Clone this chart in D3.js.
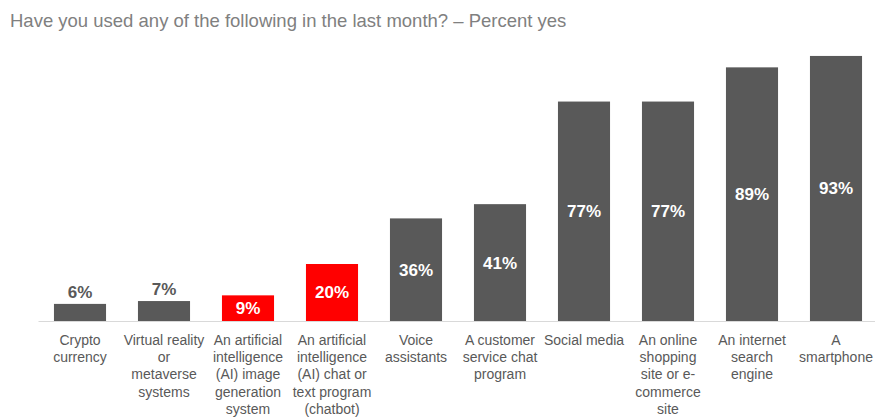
<!DOCTYPE html>
<html>
<head>
<meta charset="utf-8">
<script src="https://cdn.jsdelivr.net/npm/d3@7"></script>
<style>
  body { margin: 0; background: #fff; }
  svg text { font-family: "Liberation Sans", Arial, Helvetica, sans-serif; }
</style>
</head>
<body>
<div id="chart"></div>
<script>
// Chart data
var title = "Have you used any of the following in the last month? \u2013 Percent yes";
var categories = [
	"Crypto\ncurrency",
	"Virtual reality\nor\nmetaverse\nsystems",
	"An artificial\nintelligence\n(AI) image\ngeneration\nsystem",
	"An artificial\nintelligence\n(AI) chat or\ntext program\n(chatbot)",
	"Voice\nassistants",
	"A customer\nservice chat\nprogram",
	"Social media",
	"An online\nshopping\nsite or e-\ncommerce\nsite",
	"An internet\nsearch\nengine",
	"A\nsmartphone"
];
var values = [6, 7, 9, 20, 36, 41, 77, 77, 89, 93];
var highlighted = [categories[2], categories[3]];

var width = 875, height = 417;
var baseline = 321;

var svg = d3.select("#chart")
	.append("svg")
	.attr("width", width)
	.attr("height", height);

// Title
svg.append("text")
	.attr("x", 10)
	.attr("y", 27)
	.attr("fill", "#808080")
	.style("font-size", "18.5px")
	.text(title);

// Scales
var x = d3.scaleBand()
	.domain(categories)
	.range([38, 878])
	.paddingInner(0.38)
	.paddingOuter(0.19);

var y = d3.scaleLinear()
	.domain([0, 100])
	.range([baseline, 36]);

var data = categories.map(function(c, i) { return { cat: c, value: values[i] }; });

// Bars
svg.append("g")
	.selectAll("rect")
	.data(data)
	.enter().append("rect")
	.attr("x", function(d) { return x(d.cat); })
	.attr("y", function(d) { return y(d.value); })
	.attr("width", x.bandwidth())
	.attr("height", function(d) { return baseline - y(d.value); })
	.attr("fill", function(d) { return highlighted.indexOf(d.cat) >= 0 ? "#ff0000" : "#595959"; });

// Value labels: inside centre, small ones above
svg.append("g")
	.selectAll("text")
	.data(data)
	.enter().append("text")
	.attr("x", function(d) { return x(d.cat) + x.bandwidth() / 2; })
	.attr("y", function(d) {
		if (d.value < 8) return y(d.value) - 6;
		return (y(d.value) + baseline) / 2;
	})
	.attr("dy", function(d) { return d.value < 8 ? "0" : "0.35em"; })
	.attr("text-anchor", "middle")
	.attr("fill", function(d) { return d.value < 8 ? "#595959" : "#fff"; })
	.style("font-size", "17px")
	.style("font-weight", "bold")
	.text(function(d) { return d.value + "%"; });

// X axis
var xAxis = d3.axisBottom(x).tickSize(0).tickSizeOuter(0);
var gx = svg.append("g")
	.attr("transform", "translate(0," + baseline + ")")
	.call(xAxis);
gx.select(".domain").attr("stroke", "#d9d9d9");
gx.selectAll(".tick text").remove();
gx.selectAll(".tick").append("text")
	.attr("text-anchor", "middle")
	.attr("fill", "#595959")
	.style("font-size", "14px")
	.each(function(d) {
		var t = d3.select(this);
		d.split("\n").forEach(function(line, i) {
			t.append("tspan")
				.attr("x", 0)
				.attr("y", 24 + i * 17.2)
				.text(line);
		});
	});
</script>
</body>
</html>
